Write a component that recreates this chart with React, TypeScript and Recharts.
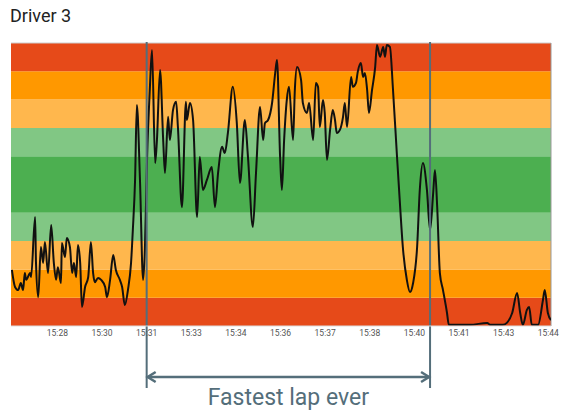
import {
  LineChart,
  Line,
  XAxis,
  YAxis,
  ReferenceArea,
  ReferenceLine,
} from 'recharts';

// tick positions on the time axis and the clock labels shown under them
const tickPositions = [1, 2, 3, 4, 5, 6, 7, 8, 9, 10, 11, 12];
const timeLabels = [
  '15:28', '15:30', '15:31', '15:33', '15:34', '15:36',
  '15:37', '15:38', '15:40', '15:41', '15:43', '15:44',
];

// zone limits (0 = slowest, 10 = fastest) and zone colours
const zoneLimits = [0, 1, 2, 3, 4, 6, 7, 8, 9, 10];
const zoneColors = [
  '#E64A19', '#FF9800', '#FFB74D', '#81C784', '#4CAF50',
  '#81C784', '#FFB74D', '#FF9800', '#E64A19',
];

// lap markers on the time axis
const lapStart = 3.0;
const lapEnd = 9.35;

const times = [
  -0.02, 0.05, 0.12, 0.18, 0.23, 0.27, 0.3, 0.39, 0.41, 0.5, 0.52, 0.57, 0.63,
  0.68, 0.72, 0.79, 0.86, 0.92, 0.97, 1.01, 1.08, 1.1, 1.17, 1.21, 1.28, 1.33,
  1.37, 1.42, 1.46, 1.51, 1.55, 1.62, 1.69, 1.75, 1.8, 1.84, 1.91, 1.98, 2.07,
  2.11, 2.18, 2.25, 2.31, 2.4, 2.45, 2.51, 2.58, 2.65, 2.69, 2.74, 2.78, 2.85,
  2.92, 2.96, 3.01, 3.07, 3.12, 3.19, 3.23, 3.3, 3.37, 3.41, 3.48, 3.52, 3.59,
  3.66, 3.7, 3.79, 3.88, 3.9, 3.97, 4.04, 4.13, 4.19, 4.26, 4.35, 4.46, 4.53,
  4.6, 4.69, 4.75, 4.82, 4.93, 5.02, 5.09, 5.2, 5.27, 5.38, 5.45, 5.54, 5.61,
  5.65, 5.72, 5.81, 5.88, 5.92, 5.99, 6.03, 6.08, 6.14, 6.19, 6.28, 6.32, 6.37,
  6.46, 6.5, 6.59, 6.64, 6.73, 6.79, 6.84, 6.88, 6.95, 6.99, 7.04, 7.11, 7.17,
  7.22, 7.26, 7.33, 7.4, 7.44, 7.49, 7.58, 7.62, 7.69, 7.73, 7.8, 7.85, 7.89,
  7.94, 7.98, 8.05, 8.12, 8.16, 8.23, 8.3, 8.34, 8.38, 8.45, 8.52, 8.61, 8.68,
  8.74, 8.83, 8.9, 8.97, 9.06, 9.12, 9.19, 9.28, 9.35, 9.42, 9.46, 9.51, 9.57,
  9.64, 9.73, 9.77, 10.24, 10.63, 10.7, 10.98, 11.07, 11.19, 11.3, 11.37, 11.43,
  11.52, 11.57, 11.63, 11.77, 11.88, 11.92, 11.99, 12.06,
];
const speed = [
  1.98, 1.38, 1.27, 1.52, 1.27, 1.87, 1.63, 1.87, 1.73, 3.85, 2.23, 1.02, 2.79,
  2.23, 2.97, 1.87, 3.57, 2.23, 1.63, 2.08, 1.52, 2.93, 2.44, 3.11, 2.79, 1.87,
  2.23, 1.73, 2.86, 2.23, 0.67, 1.38, 1.73, 2.97, 1.87, 1.55, 1.7, 1.63, 1.38,
  1.02, 1.63, 2.51, 1.98, 1.63, 1.38, 0.74, 1.27, 2.23, 3.39, 5.16, 7.81, 5.16,
  1.63, 2.69, 5.97, 8.34, 9.75, 5.76, 6.57, 9.05, 6.57, 5.41, 7.39, 6.57, 7.63,
  7.92, 7.03, 4.2, 7.92, 7.28, 7.88, 7.28, 3.85, 5.97, 4.81, 5.16, 5.62, 4.2,
  5.41, 6.33, 6.11, 6.82, 8.45, 7.17, 5.05, 7.28, 5.97, 3.5, 5.41, 7.74, 6.57,
  7.17, 7.28, 7.88, 8.94, 9.4, 5.97, 4.81, 6.57, 7.99, 8.45, 6.57, 8.34, 9.15,
  8.69, 7.88, 7.53, 7.88, 6.57, 8.59, 8.45, 7.03, 7.99, 7.53, 5.87, 6.93, 7.63,
  7.28, 6.82, 6.93, 7.39, 7.88, 7.03, 8.8, 8.45, 8.59, 8.98, 9.29, 8.8, 8.94,
  8.34, 7.53, 8.34, 9.15, 9.93, 9.51, 9.86, 9.51, 9.93, 9.86, 8.34, 5.97, 4.2,
  2.79, 1.63, 1.2, 1.52, 2.79, 4.81, 5.76, 4.81, 3.39, 4.7, 5.51, 4.2, 1.87,
  1.27, 0.46, 0.04, 0.04, 0.11, 0.04, 0.04, 0.11, 0.46, 1.17, 0.46, 0.04,
  0.57, 0.67, 0.04, 0.04, 0.92, 1.27, 0.46, 0.21,
];

const data = times.map((t, i) => ({ t, v: speed[i] }));

const MARK = '#546E7A';

// lap marker: full plot height, carried on down to the arrow below the axis
const LapLine = (props: any) => {
  const top = Math.min(props.y1, props.y2);
  const bottom = Math.max(props.y1, props.y2);
  return (
    <line
      x1={props.x1}
      y1={top - 1}
      x2={props.x2}
      y2={bottom + 62}
      stroke={MARK}
      strokeWidth={2}
    />
  );
};

const LapArrow = (props: any) => {
  const { x, y, width, height } = props;
  const ay = y + height + 51;
  const x2 = x + width;
  return (
    <g>
      <line x1={x + 1} y1={ay} x2={x2 - 1} y2={ay} stroke={MARK} strokeWidth={2.5} />
      <polyline
        points={`${x + 9},${ay - 5} ${x + 1},${ay} ${x + 9},${ay + 5}`}
        fill="none"
        stroke={MARK}
        strokeWidth={2.5}
      />
      <polyline
        points={`${x2 - 9},${ay - 5} ${x2 - 1},${ay} ${x2 - 9},${ay + 5}`}
        fill="none"
        stroke={MARK}
        strokeWidth={2.5}
      />
      <text
        x={x + width / 2}
        y={y + height + 79}
        textAnchor="middle"
        fontSize={23}
        fill={MARK}
        fontFamily="Roboto"
      >
        Fastest lap ever
      </text>
    </g>
  );
};

export default function App() {
  return (
    <div
      style={{
        position: 'absolute',
        left: 0,
        top: 0,
        width: 566,
        height: 412,
        background: '#fff',
        fontFamily: 'Roboto, sans-serif',
      }}
    >
      <div
        style={{
          position: 'absolute',
          left: 10,
          top: 6,
          fontSize: 18,
          lineHeight: '20px',
          color: '#222',
        }}
      >
        Driver 3
      </div>
      <LineChart
        width={566}
        height={412}
        data={data}
        margin={{ top: 43, right: 15, bottom: 66, left: 11 }}
      >
        {zoneColors.map((c, i) => (
          <ReferenceArea
            key={i}
            y1={zoneLimits[i]}
            y2={zoneLimits[i + 1]}
            fill={c}
            fillOpacity={1}
            stroke="none"
          />
        ))}
        <XAxis
          dataKey="t"
          type="number"
          domain={[-0.04, 12.06]}
          allowDataOverflow
          ticks={tickPositions}
          tickFormatter={(v, i) => timeLabels[i]}
          tickLine={false}
          tickSize={0}
          tickMargin={4}
          axisLine={{ stroke: '#ddd' }}
          tick={{ fontSize: 8.5, fill: '#555' }}
          height={20}
          interval={0}
        />
        <YAxis type="number" domain={[0, 10]} hide />
        <ReferenceLine y={10} stroke="#ccc" />
        <ReferenceLine x={12.06} stroke="#999" />
        <Line
          type="monotone"
          dataKey="v"
          stroke="#111"
          strokeWidth={2}
          dot={false}
          isAnimationActive={false}
        />
        <ReferenceArea x1={lapStart} x2={lapEnd} shape={LapArrow} />
        <ReferenceLine x={lapStart} shape={LapLine} />
        <ReferenceLine x={lapEnd} shape={LapLine} />
      </LineChart>
    </div>
  );
}
